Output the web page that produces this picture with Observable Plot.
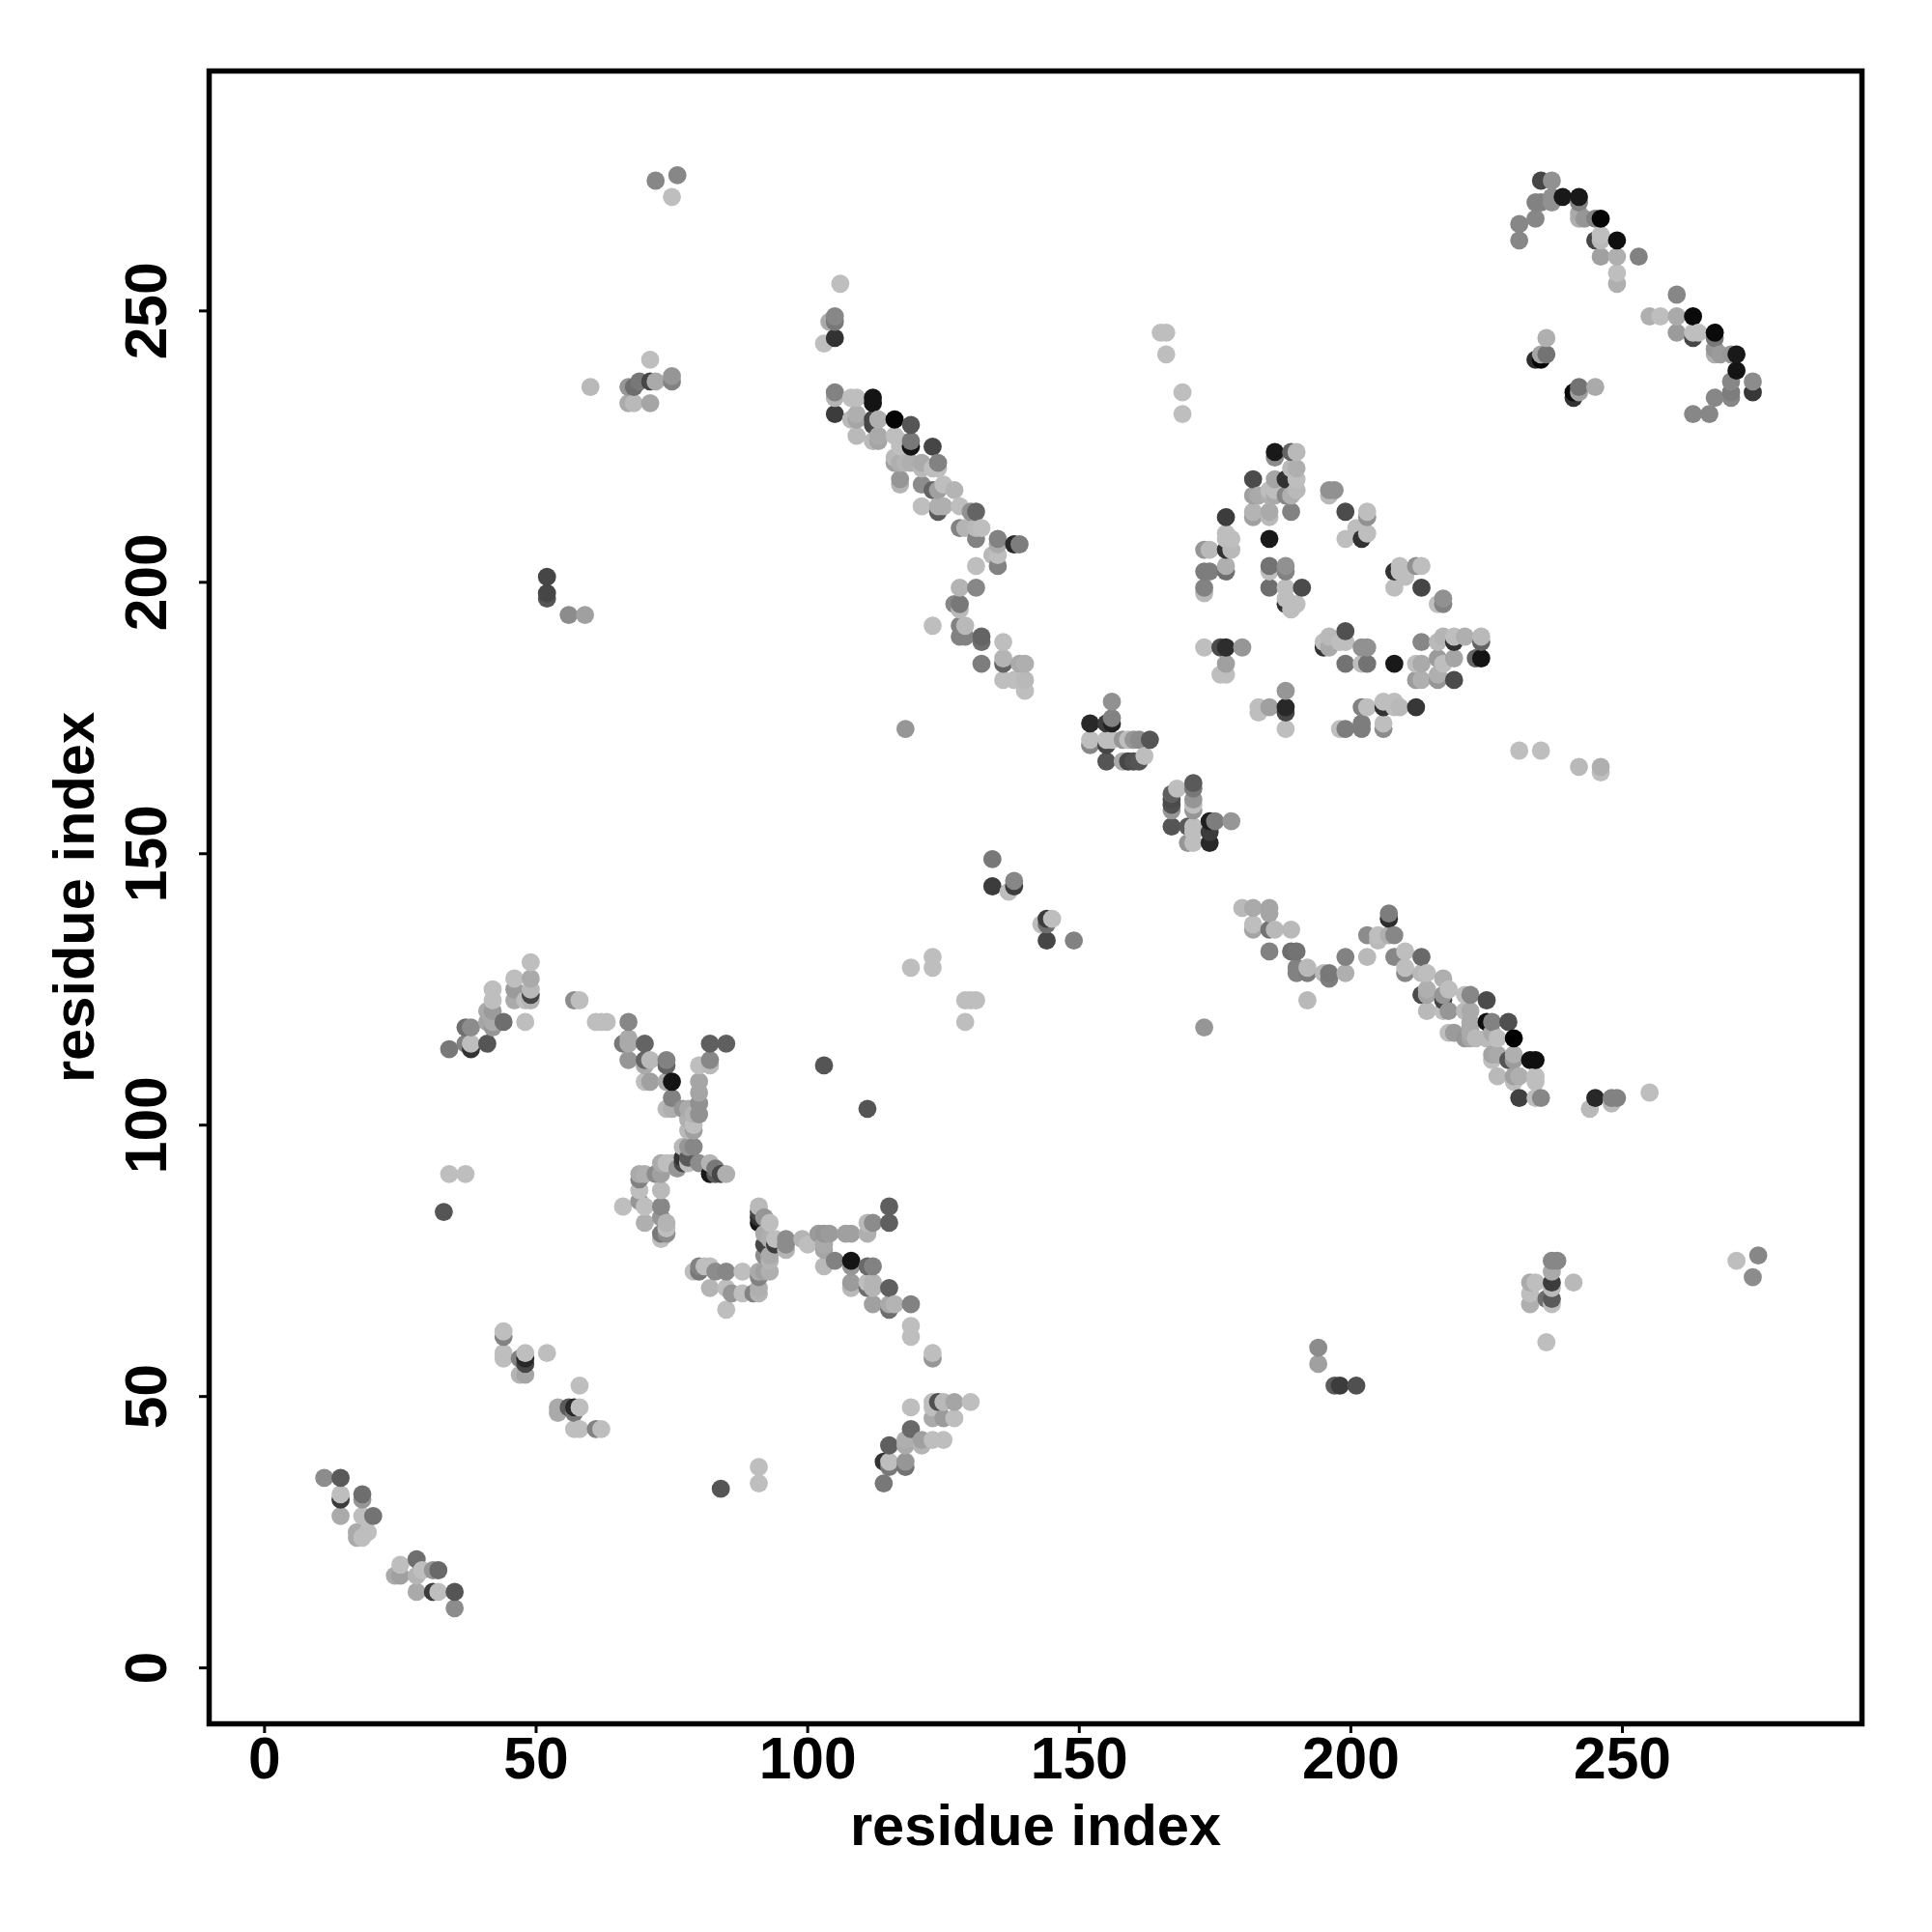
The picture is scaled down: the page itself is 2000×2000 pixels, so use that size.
<!DOCTYPE html>
<html><head><meta charset="utf-8">
<script src="https://cdn.jsdelivr.net/npm/d3@7"></script>
<script src="https://cdn.jsdelivr.net/npm/@observablehq/plot@0.6"></script>
<style>html,body{margin:0;padding:0;background:#fff}</style>
</head><body><div id="chart"></div>
<script>
// Each contact: [residue x, residue y, grey level]
const tickValues = [0, 50, 100, 150, 200, 250];
const axisTitle = "residue index";
const helixA = [[11,35,140],[14,35,90],[14,32,190],[14,31,60],[18,32,110],[18,31,150],[14,28,170],[20,28,115],[18,28,190],[17,24,170],[18,24,190],[19,25,190],[17,25,170],[28,20,110],[25,19,190],[24,17,170],[25,17,160],[29,18,190],[28,17,180],[31,18,150],[32,18,105],[28,14,170],[31,14,60],[32,14,190],[35,14,85],[35,11,140]];
const groupB = [[44,62,190],[44,61,130],[44,58,190],[44,57,190],[48,58,190],[47,57,130],[48,57,40],[48,56,70],[47,54,180],[48,54,165],[52,58,190],[58,52,190],[54,48,170],[54,47,170],[56,48,90],[57,48,40],[58,48,190],[57,47,120],[57,44,190],[58,44,190],[61,44,130],[62,44,190],[84,33,85],[91,37,190],[91,34,190]];
const groupC = [[49,130,190],[46,127,190],[49,127,170],[46,125,155],[49,125,185],[49,124,70],[46,123,170],[48,123,190],[49,123,180],[42,125,190],[42,123,190],[41,121,170],[42,121,155],[41,119,165],[42,119,170],[42,118,150],[44,119,110],[48,119,190],[37,118,110],[38,118,140],[37,115,130],[38,114,50],[38,115,190],[41,115,85],[34,114,120],[34,91,190],[37,91,190],[33,84,85]];
const groupD = [[57,123,140],[58,123,190],[61,119,190],[62,119,190],[63,119,190],[67,119,135],[66,115,120],[67,116,170],[67,115,170],[70,115,100],[67,112,150],[70,112,100],[71,112,185],[70,111,170],[74,112,130],[74,111,100],[70,108,190],[71,108,160],[75,108,20],[74,108,170],[75,105,130],[74,103,185],[75,103,175],[77,103,150],[78,103,170],[82,115,95],[85,115,95],[80,111,190],[82,112,135],[82,111,185],[80,108,165],[80,106,165],[80,104,145],[80,102,145],[79,102,180],[78,101,175],[79,100,190],[79,99,160],[78,99,185],[79,96,135],[78,96,150],[77,96,185],[77,94,50],[78,94,90],[77,93,70],[78,93,190],[80,93,140],[82,93,180],[83,92,120],[73,93,170],[74,93,190],[76,92,150],[75,93,190],[73,91,160],[72,91,140],[82,91,25],[83,91,90],[85,91,175],[84,91,70],[69,91,170],[70,91,175],[69,90,130],[73,88,185],[69,88,190],[69,86,150],[70,85,190],[66,85,190],[73,85,135],[73,83,150],[70,82,175],[74,82,180],[74,81,190],[73,80,120],[74,80,140],[73,79,190]];
const groupE = [[91,85,185],[91,82,20],[91,84,70],[91,83,50],[92,83,150],[93,82,190],[92,80,170],[92,78,70],[93,79,175],[94,79,190],[94,78,60],[96,79,140],[96,78,140],[96,77,180],[92,76,140],[93,76,170],[93,75,180],[93,73,175],[92,73,160],[91,73,170],[91,72,130],[91,70,175],[91,69,180],[90,69,130],[88,69,190],[86,69,150],[85,66,190],[85,70,190],[82,70,180],[88,73,190],[85,73,135],[83,73,140],[82,74,190],[79,73,190],[80,74,130],[80,73,120],[81,74,190],[99,79,180],[100,78,190],[102,80,155],[103,80,150],[104,80,155],[103,78,170],[103,77,165],[107,80,160],[108,80,160],[111,80,175],[111,82,185],[112,82,140],[115,82,95],[115,85,95],[103,74,185],[105,75,130],[108,75,20],[108,74,150],[111,74,105],[112,74,130],[108,71,155],[108,70,185],[111,71,190],[112,71,180],[111,70,110],[112,70,180],[115,70,95],[112,67,160],[115,67,170],[115,66,110],[116,67,180],[119,67,130],[119,63,190],[119,61,190],[123,58,190],[123,57,150]];
const groupF = [[123,49,190],[124,49,80],[125,49,185],[127,49,165],[130,49,190],[123,48,190],[123,46,170],[125,46,155],[127,46,190],[119,48,190],[119,44,105],[118,42,175],[121,42,160],[123,42,190],[125,42,190],[121,41,180],[118,41,170],[115,41,95],[114,38,50],[115,38,190],[118,38,150],[118,37,115],[115,37,120],[114,34,120]];
const groupG = [[105,235,130],[105,234,180],[105,231,60],[108,234,190],[109,234,190],[112,234,20],[112,233,20],[108,230,185],[109,231,175],[109,230,165],[109,227,185],[112,230,70],[112,229,70],[113,230,175],[112,226,185],[113,227,170],[113,226,165],[116,230,5],[119,229,85],[116,227,190],[117,226,190],[119,226,120],[119,225,20],[117,225,190],[123,225,70],[116,223,185],[116,222,160],[117,222,175],[118,222,180],[119,222,175],[121,222,170],[124,222,130],[121,221,185],[123,221,190],[124,221,190],[117,219,150],[117,218,180],[121,218,140],[123,217,100],[124,217,160],[125,218,190],[127,217,180],[121,214,190],[124,214,175],[125,214,175],[124,213,90],[128,214,190],[130,213,145],[131,213,100],[128,210,130],[129,210,180],[131,210,185],[132,210,190],[131,208,130],[135,208,130],[135,207,170],[134,205,185],[135,205,190],[135,203,130],[131,203,190],[138,207,40],[139,207,125],[128,199,180],[131,199,135],[127,196,135],[128,196,120],[128,195,185],[123,192,190],[128,192,130],[129,192,185],[128,190,130],[129,190,130],[132,190,100],[132,189,110],[136,189,190],[132,185,125],[136,186,180],[136,185,100],[139,185,170],[140,185,175],[136,182,190],[138,182,190],[140,182,185],[140,180,190]];
const groupH = [[186,224,25],[186,223,140],[189,224,100],[190,224,185],[182,219,75],[186,219,165],[189,221,185],[190,221,175],[188,219,50],[190,219,190],[190,217,185],[182,216,160],[183,216,170],[185,217,190],[186,217,190],[185,216,175],[186,216,170],[188,216,135],[189,216,175],[182,213,180],[182,212,160],[185,213,170],[185,212,185],[189,213,130],[177,212,60],[177,209,190],[178,208,190],[177,206,50],[178,206,185],[177,208,190],[173,206,150],[174,206,185],[185,208,25],[173,202,125],[174,202,125],[177,202,110],[177,203,175],[173,199,130],[173,198,185],[185,203,115],[185,202,190],[188,203,145],[188,202,130],[185,199,110],[188,199,190],[191,199,75],[188,196,50],[189,196,190],[190,196,190],[188,197,190],[189,195,190]];
const groupI = [[196,217,145],[196,216,185],[197,217,145],[199,213,75],[203,213,190],[203,212,145],[201,210,190],[203,209,190],[199,208,190],[202,208,50],[208,202,50],[209,203,190],[210,201,190],[209,202,190],[212,203,145],[213,203,190],[208,199,190],[213,199,70],[216,196,190],[217,197,145],[217,196,130]];
const groupJ = [[199,191,80],[195,188,50],[195,189,190],[196,190,185],[196,188,170],[198,189,190],[199,189,190],[202,188,145],[203,188,145],[199,185,115],[202,185,190],[203,185,115],[173,188,190],[176,188,75],[177,188,45],[180,188,150],[177,185,160],[176,183,190],[177,183,190],[208,185,25],[213,189,135],[216,189,185],[217,190,180],[219,189,50],[219,190,190],[221,190,175],[224,190,185],[224,189,100],[224,186,20],[223,186,100],[212,185,190],[213,185,170],[216,186,155],[217,185,190],[219,186,165],[212,182,155],[213,182,175],[216,182,150],[216,183,175],[219,182,75]];
const groupK = [[188,180,150],[183,177,190],[183,176,190],[185,177,160],[188,177,40],[188,176,70],[188,173,190],[202,177,130],[203,177,190],[206,177,50],[206,178,190],[208,178,190],[209,177,185],[208,177,190],[212,177,55],[198,173,190],[199,173,125],[202,174,125],[202,173,125],[206,173,140],[206,174,190]];
const groupL = [[156,178,145],[156,175,130],[155,174,60],[156,174,35],[152,174,40],[152,171,190],[152,170,135],[155,171,190],[155,170,70],[156,171,190],[158,171,150],[159,171,190],[160,171,150],[161,171,140],[163,171,85],[155,167,85],[158,167,170],[159,167,70],[160,167,80],[161,167,85],[162,168,190],[167,161,95],[167,160,75],[167,159,80],[167,158,150],[168,162,190],[167,155,85],[171,163,90],[171,162,120],[171,160,150],[171,159,190],[171,158,150],[170,155,90],[171,155,190],[171,154,190],[170,152,150],[171,152,190],[174,156,30],[174,154,60],[175,156,125],[178,156,150],[174,152,40]];
const groupM = [[180,140,185],[182,140,170],[185,140,165],[185,139,165],[182,137,190],[182,136,165],[185,136,115],[186,136,185],[189,136,185],[185,132,130],[189,132,110],[190,132,115],[190,129,130],[190,128,130],[192,129,185],[192,128,125],[195,128,185],[196,128,120],[196,127,125],[199,128,175],[199,131,130],[192,123,185],[203,131,185],[203,135,140],[205,135,190],[205,134,185],[207,135,175],[208,135,135],[207,139,125],[207,138,45],[208,131,135],[210,132,190],[213,131,105],[210,129,190],[210,128,135],[214,128,190],[213,128,185],[217,127,175],[213,124,75],[214,125,175],[214,124,165],[214,121,185],[217,124,150],[217,123,70],[218,125,190],[218,121,150],[217,121,190],[221,124,190],[222,124,135],[225,123,75],[221,121,185],[222,121,170],[225,119,15],[226,119,130],[229,119,80],[222,119,170],[222,118,170],[222,117,170],[218,117,190],[219,117,155],[222,116,165],[221,116,150],[223,116,185],[225,116,185],[226,117,170],[227,116,190],[230,116,0],[226,113,165],[227,113,170],[226,112,190],[229,112,85],[230,113,175],[230,112,155],[233,112,15],[234,112,15],[227,109,185],[230,108,190],[230,109,160],[231,109,175],[234,109,190],[234,108,190],[231,105,65],[234,105,190],[235,105,135],[245,105,40],[248,105,130],[249,105,130],[244,103,185],[248,104,185],[255,106,190]];
const groupN = [[235,274,70],[237,274,145],[234,270,130],[235,270,130],[237,271,145],[237,270,145],[239,271,25],[242,271,25],[242,270,130],[231,266,135],[234,267,135],[231,263,135],[242,268,170],[242,267,175],[243,267,150],[245,267,130],[246,267,5],[245,263,70],[246,264,190],[246,263,185],[249,263,15],[246,260,160],[249,260,175],[253,260,130],[249,257,190],[249,255,175],[260,253,135],[255,249,175],[257,249,190],[260,249,170],[263,249,10],[260,246,155],[263,245,70],[263,246,190],[264,246,190],[267,246,10],[267,245,120],[267,243,150],[267,242,175],[268,242,155],[270,242,150],[271,242,25],[271,239,20],[270,237,135],[274,237,140],[274,235,55],[270,235,125],[270,234,135],[267,234,135],[263,231,135],[266,231,135],[236,245,175],[234,241,45],[235,241,5],[235,242,165],[236,242,115],[241,234,50],[241,235,10],[242,235,160],[242,236,115],[245,236,170]];
const scattered = [[72,274,135],[76,275,135],[75,271,190],[71,241,190],[60,236,185],[67,233,170],[68,233,185],[71,233,165],[68,236,110],[67,236,150],[71,237,70],[72,237,170],[75,238,150],[75,237,130],[69,237,120],[52,201,70],[52,198,70],[52,197,85],[56,194,140],[59,194,160],[106,255,190],[105,249,135],[104,248,170],[105,248,120],[103,244,190],[105,245,50],[165,246,190],[166,246,190],[166,242,190],[169,235,190],[169,231,190],[231,169,190],[235,169,190],[242,166,185],[246,166,175],[246,165,190],[118,173,150],[173,118,150],[103,111,85],[111,103,85],[119,129,190],[123,131,190],[123,129,190],[129,123,190],[130,123,190],[131,123,190],[129,119,190],[134,149,120],[134,144,60],[137,143,190],[138,145,135],[138,144,60],[143,137,190],[144,138,60],[145,138,190],[144,137,110],[144,134,70],[149,134,130],[194,59,140],[194,56,160],[197,52,90],[198,52,60],[201,52,80],[233,67,175],[233,69,190],[233,71,170],[234,71,190],[237,75,135],[238,75,135],[237,71,60],[237,68,90],[236,68,110],[237,70,185],[237,73,170],[241,71,185],[237,67,190],[236,60,190],[271,75,190],[275,76,135],[274,72,140]];

// The reference paints in residue order: x ascending, then y ascending.
const contacts = [helixA, groupB, groupC, groupD, groupE, groupF, groupG, groupH, groupI, groupJ, groupK, groupL, groupM, groupN, scattered]
  .flat()
  .map(([x, y, shade]) => ({x, y, shade}))
  .sort((a, b) => a.x - b.x || a.y - b.y);

const chart = Plot.plot({
  width: 2000, height: 2000,
  marginLeft: 216, marginRight: 73, marginTop: 73, marginBottom: 216,
  style: {background: "#fff", color: "#000", font: "bold 59.6px 'Liberation Sans'"},
  x: {domain: [-10.2, 294.1]},
  y: {domain: [-10.3, 294.2]},
  color: {type: "linear", domain: [0, 255], range: ["#000", "#fff"]},
  marks: [
    Plot.dot(contacts, {x: "x", y: "y", fill: "shade", r: 9.4, stroke: "none"}),
    Plot.frame({stroke: "#000", strokeWidth: 5.5}),
    Plot.axisX({ticks: tickValues, tickSize: 10, tickPadding: 4, strokeWidth: 3, fontSize: 60.5, label: null, tickFormat: d => d}),
    Plot.axisY({ticks: tickValues, tickSize: 10, tickPadding: 35, strokeWidth: 3, fontSize: 60.5, tickRotate: -90, textAnchor: "middle", label: null, tickFormat: d => d}),
    Plot.axisX({ticks: [], label: axisTitle, labelAnchor: "center", labelArrow: "none", labelOffset: 125}),
    Plot.axisY({ticks: [], label: axisTitle, labelAnchor: "center", labelArrow: "none", labelOffset: 162})
  ]
});
document.getElementById("chart").appendChild(chart);
</script></body></html>
